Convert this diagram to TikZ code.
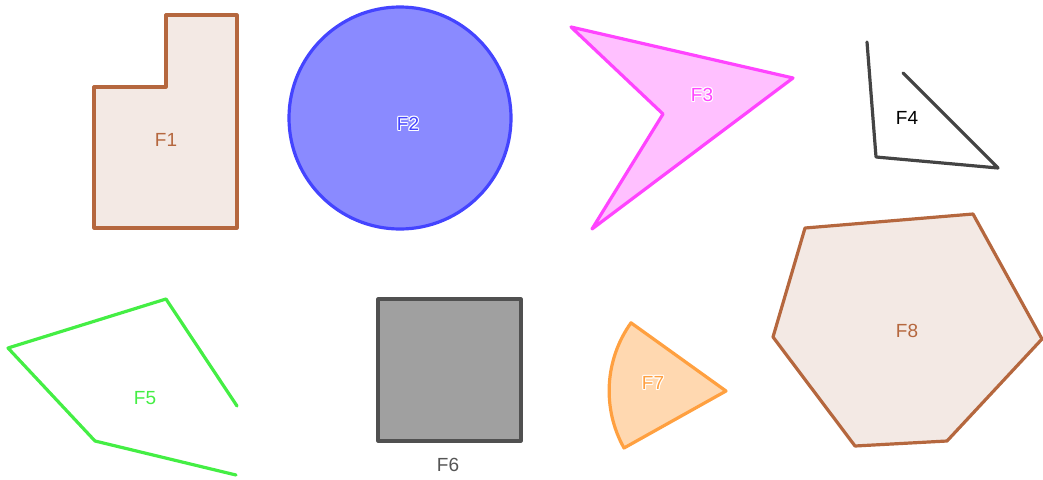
\documentclass[tikz,border=0pt]{standalone}
\usepackage{fontspec}
\setmainfont{Liberation Sans}
\definecolor{brownS}{HTML}{B5673E}
\definecolor{brownF}{HTML}{F3E9E4}
\definecolor{blueS}{HTML}{4444FF}
\definecolor{blueF}{HTML}{8A8AFF}
\definecolor{magS}{HTML}{FF44FF}
\definecolor{magF}{HTML}{FFC0FF}
\definecolor{darkS}{HTML}{444444}
\definecolor{greenS}{HTML}{44EE44}
\definecolor{grayS}{HTML}{505050}
\definecolor{grayF}{HTML}{A0A0A0}
\definecolor{orS}{HTML}{FFA040}
\definecolor{orF}{HTML}{FFD8B0}
\definecolor{lblgray}{HTML}{555555}
\tikzset{
  shapeline/.style={line width=3.2pt, line join=round, line cap=round},
  lbl/.style={font=\fontsize{19}{22}\selectfont, inner sep=0pt},
}
\newcommand\halolbl[4]{%
  \foreach \dx/\dy in {1/0,-1/0,0/1,0/-1,0.8/0.8,-0.8/0.8,0.8/-0.8,-0.8/-0.8}
    \node[lbl,white] at ([shift={(\dx,\dy)}]#2) {#4};
  \node[lbl,text=#3] (#1) at (#2) {#4};
}
\begin{document}
\begin{tikzpicture}[x=1pt,y=-1pt]
\useasboundingbox (0,0) rectangle (1043,479);
% F1
\draw[shapeline, draw=brownS, fill=brownF] (94,87) -- (166,87) -- (166,15) -- (237,15) -- (237,228) -- (94,228) -- cycle;
\node[lbl,text=brownS] (f1) at (166,140) {F1};
% F2
\draw[shapeline, draw=blueS, fill=blueF] (400,118) circle[radius=111];
\halolbl{f2}{408,124}{blueS}{F2}
% F3
\draw[shapeline, draw=magS, fill=magF] (571,27) -- (793,78) -- (592,229) -- (663,114) -- cycle;
\halolbl{f3}{702,95}{magS}{F3}
% F4
\draw[shapeline, draw=darkS] (867,42) -- (876,157) -- (998,168) -- (903,73);
\node[lbl,text=black] (f4) at (907,118) {F4};
% F5
\draw[shapeline, draw=greenS] (237,406) -- (166,299) -- (8,348) -- (95,441) -- (236,475);
\node[lbl,text=greenS] (f5) at (145,398) {F5};
% F6
\draw[shapeline, draw=grayS, fill=grayF] (378,299) rectangle (521,441);
\node[lbl,text=lblgray] (f6) at (448,465) {F6};
% F7
\draw[shapeline, draw=orS, fill=orF] (726,391) -- (624,448) arc[start angle=150.8, end angle=215.6, radius=117] -- cycle;
\halolbl{f7}{653,383}{orS}{F7}
% F8
\draw[shapeline, draw=brownS, fill=brownF] (805,228) -- (973,214) -- (1042,339) -- (947,441) -- (855,446) -- (773,337) -- cycle;
\node[lbl,text=brownS] (f8) at (907,331) {F8};
\end{tikzpicture}
\end{document}
